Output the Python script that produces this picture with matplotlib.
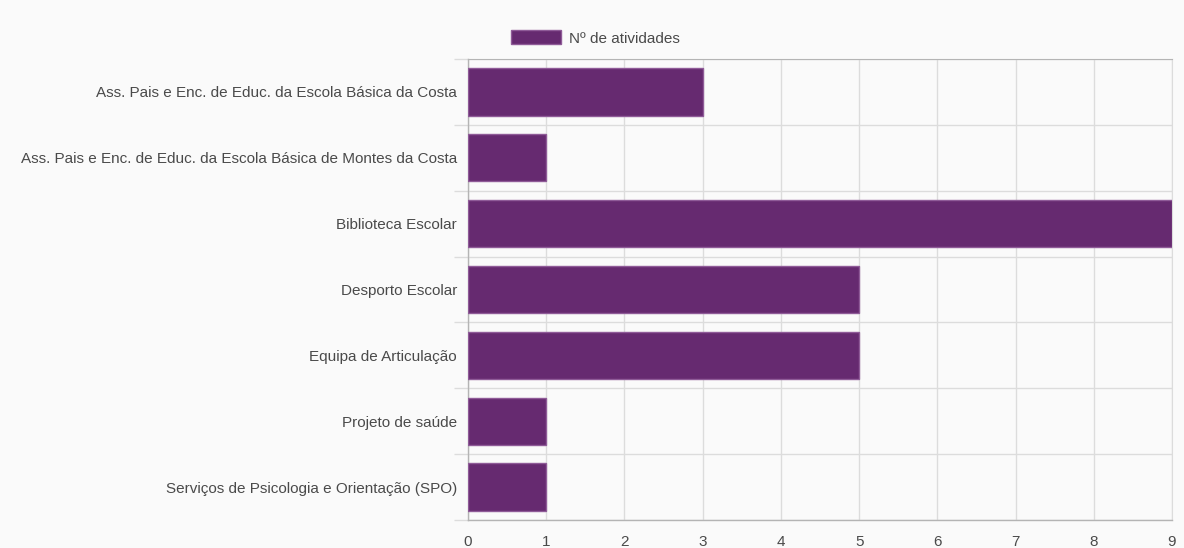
import matplotlib.pyplot as plt
import matplotlib.patches as mpatches

# data
categories = [
    "Ass. Pais e Enc. de Educ. da Escola Básica da Costa",
    "Ass. Pais e Enc. de Educ. da Escola Básica de Montes da Costa",
    "Biblioteca Escolar",
    "Desporto Escolar",
    "Equipa de Articulação",
    "Projeto de saúde",
    "Serviços de Psicologia e Orientação (SPO)",
]
n_atividades = [3, 1, 9, 5, 5, 1, 1]
series_label = "Nº de atividades"
x_ticks = list(range(0, 10))

plt.rcParams["font.family"] = ["Liberation Sans", "DejaVu Sans"]

bar_color = "#662a70"
edge_color = "#8f5b98"
grid_color = "#dcdcdc"
axis_color = "#b4b4b4"
text_color = "#4a4a4a"
bg = "#fafafa"

fig = plt.figure(figsize=(11.84, 5.48), dpi=100, facecolor=bg)
ax = fig.add_axes([468 / 1184, 1 - 520 / 548, (1172 - 468) / 1184, (520 - 59) / 548])
ax.set_facecolor(bg)

pos = list(range(len(categories)))
ax.barh(pos, n_atividades, height=0.72, color=bar_color,
        edgecolor=edge_color, linewidth=1, zorder=3)

ax.set_ylim(len(categories) - 0.5, -0.5)
ax.set_xlim(0, 9)

# category labels in the middle, grid lines at the boundaries
ax.set_yticks(pos)
ax.set_yticklabels(categories)
ax.set_yticks([p - 0.5 for p in pos] + [len(categories) - 0.5], minor=True)
ax.tick_params(axis="y", which="major", length=0, pad=8,
               labelsize=11, labelcolor=text_color)
ax.tick_params(axis="y", which="minor", length=10, color=grid_color, width=1)

ax.set_xticks(x_ticks)
ax.tick_params(axis="x", length=0, pad=11, labelsize=11, labelcolor=text_color)

ax.grid(True, axis="x", which="major", color=grid_color, linewidth=1, zorder=0)
ax.grid(True, axis="y", which="minor", color=grid_color, linewidth=1, zorder=0)

for side in ["left", "bottom"]:
    ax.spines[side].set_color(axis_color)
    ax.spines[side].set_linewidth(1)
ax.spines["top"].set_color(axis_color)
ax.spines["right"].set_color(grid_color)

handle = mpatches.Patch(facecolor=bar_color, edgecolor=edge_color, linewidth=1)
fig.legend([handle], [series_label], loc="center",
           bbox_to_anchor=(0.5 + 3 / 1184, 1 - 38 / 548), frameon=False,
           handlelength=3.3, handleheight=1.0, handletextpad=0.5,
           fontsize=11, labelcolor=text_color)

fig.savefig("out.png", dpi=100, facecolor=bg)
